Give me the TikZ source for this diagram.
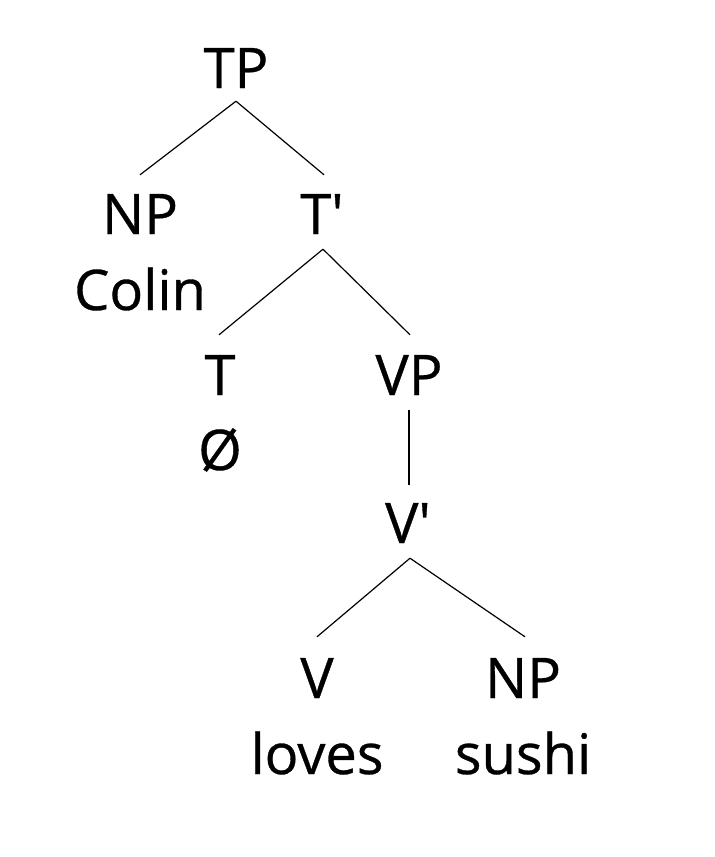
\documentclass[tikz,border=0pt]{standalone}
\usepackage{fontspec}
\usepackage{textcomp}
\newfontfamily\treefont{Open Sans}[FakeBold=0.6]
\begin{document}
\begin{tikzpicture}[x=1pt,y=-1pt,
  lab/.style={anchor=base,inner sep=0pt,text height=42pt,text depth=0pt,
    font=\treefont\fontsize{56}{68}\selectfont},
  edge/.style={draw=black,line width=1.2pt}]
\useasboundingbox[fill=white] (0,0) rectangle (715,857);
\node[lab] (TP) at (236,88) {TP};
\node[lab] (NP1) at (140,234) {NP};
\node[lab] (Colin) at (140,310) {Colin};
\node[lab] (Tbar) at (322,234) {T\textquotesingle};
\node[lab] (T) at (220,395) {T};
\node[lab] (empty) at (220,470) {Ø};
\node[lab] (VP) at (409,395) {VP};
\node[lab] (Vbar) at (408,543) {V\textquotesingle};
\node[lab] (V) at (317,698) {V};
\node[lab] (loves) at (317,774) {loves};
\node[lab] (NP2) at (523,698) {NP};
\node[lab] (sushi) at (523,774) {sushi};
\draw[edge] ([yshift=-13pt]TP.south) -- ([yshift=17pt]NP1.north);
\draw[edge] ([yshift=-13pt]TP.south) -- ([xshift=2pt,yshift=17pt]Tbar.north);
\draw[edge] ([xshift=1pt,yshift=-15pt]Tbar.south) -- ([xshift=-1pt,yshift=18pt]T.north);
\draw[edge] ([xshift=1pt,yshift=-15pt]Tbar.south) -- ([xshift=1pt,yshift=18pt]VP.north);
\draw[edge] ([yshift=-15pt]VP.south) -- ([xshift=1pt,yshift=16pt]Vbar.north);
\draw[edge] ([xshift=2pt,yshift=-15pt]Vbar.south) -- ([yshift=19pt]V.north);
\draw[edge] ([xshift=2pt,yshift=-15pt]Vbar.south) -- ([xshift=2pt,yshift=19pt]NP2.north);
\end{tikzpicture}
\end{document}
